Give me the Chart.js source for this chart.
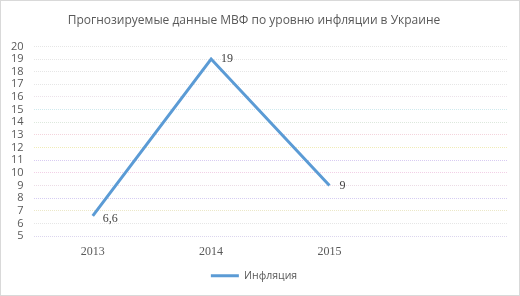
<!DOCTYPE html>
<html>
<head>
<meta charset="utf-8">
<script src="https://cdn.jsdelivr.net/npm/chart.js@4"></script>
<style>
  html, body { margin: 0; padding: 0; background: #fff; }
  #wrap { width: 518px; height: 294px; border: 1px solid #d9d9d9; }
</style>
</head>
<body>
<div id="wrap"><canvas id="myChart" width="518" height="294"></canvas></div>
<script>
var years = ["2013", "2014", "2015", ""];
var inflation = [6.6, 19, 9, null];
var pointLabels = ["6,6", "19", "9", ""];

// faint pastel dotted gridlines, like the original
var gridColors = {
    5: "#dcd6ee", 6: "#e6e6e6", 7: "#ece8c8", 8: "#d6cdf2", 9: "#ecdce6",
    10: "#f2d0e6", 11: "#d8ccf2", 12: "#f0ecb8", 13: "#f4d4dc", 14: "#dde8dd",
    15: "#cfeaee", 16: "#ece2ea", 17: "#e6e6e6", 18: "#e6e6e6", 19: "#e6e6e6", 20: "#e6e6e6"
};

var valueLabels = {
    id: 'valueLabels',
    afterDatasetsDraw: function(chart) {
        var ctx = chart.ctx;
        var meta = chart.getDatasetMeta(0);
        ctx.save();
        ctx.font = '12px "Liberation Serif", serif';
        ctx.fillStyle = '#404040';
        ctx.textAlign = 'left';
        ctx.textBaseline = 'middle';
        meta.data.forEach(function(pt, i) {
            if (inflation[i] == null) return;
            ctx.fillText(pointLabels[i], pt.x + 10, pt.y + (i === 0 ? 3 : 0));
        });
        ctx.restore();
    }
};

var ctx = document.getElementById('myChart');
new Chart(ctx, {
    type: 'line',
    data: {
        labels: years,
        datasets: [{
            label: 'Инфляция',
            data: inflation,
            borderColor: '#5b9bd5',
            backgroundColor: '#5b9bd5',
            borderWidth: 3,
            pointRadius: 0,
            tension: 0
        }]
    },
    plugins: [valueLabels],
    options: {
        responsive: false,
        animation: false,
        layout: { padding: { left: 0, right: 12, top: 0, bottom: 4 } },
        plugins: {
            title: {
                display: true,
                text: 'Прогнозируемые данные МВФ по уровню инфляции в Украине',
                color: '#595959',
                font: { family: '"Open Sans", sans-serif', size: 12, weight: 'normal' },
                padding: { top: 12, bottom: 19 }
            },
            legend: {
                position: 'bottom',
                labels: {
                    color: '#595959',
                    font: { family: '"Open Sans", sans-serif', size: 10.5 },
                    boxWidth: 28,
                    boxHeight: 3,
                    padding: 10,
                    generateLabels: function(chart) {
                        var items = Chart.defaults.plugins.legend.labels.generateLabels(chart);
                        items.forEach(function(it) { it.lineWidth = 0; });
                        return items;
                    }
                }
            },
            tooltip: { enabled: false }
        },
        scales: {
            x: {
                offset: true,
                grid: { display: false },
                border: { display: false },
                ticks: {
                    color: '#595959',
                    font: { family: '"Liberation Serif", serif', size: 12 },
                    padding: 1
                }
            },
            y: {
                min: 5,
                max: 20,
                grid: {
                    color: function(c) { return gridColors[c.tick.value] || '#e6e6e6'; },
                    drawTicks: false
                },
                border: { display: false, dash: [1, 1] },
                ticks: {
                    stepSize: 1,
                    autoSkip: false,
                    color: '#595959',
                    font: { family: '"Open Sans", sans-serif', size: 11 },
                    padding: 10
                }
            }
        }
    }
});
</script>
</body>
</html>
